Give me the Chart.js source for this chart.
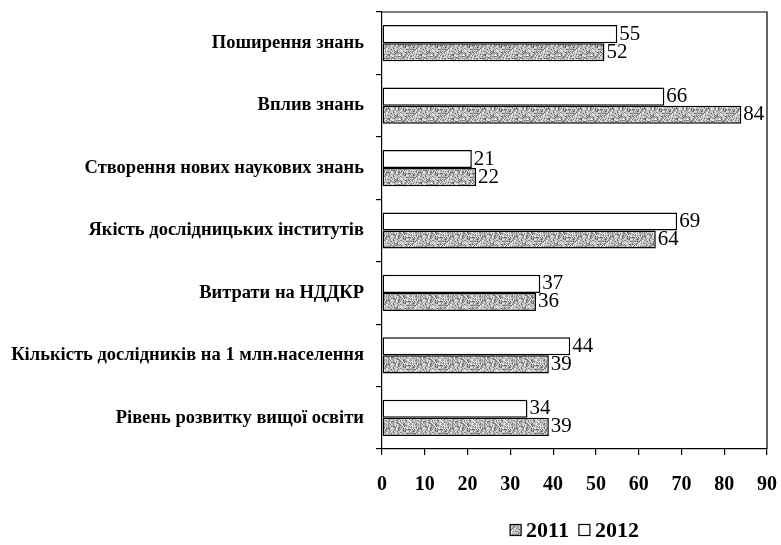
<!DOCTYPE html>
<html>
<head>
<meta charset="utf-8">
<script src="https://cdn.jsdelivr.net/npm/chart.js@4"></script>
<style>
  html, body { margin: 0; padding: 0; background: #fff; }
</style>
</head>
<body>
<canvas id="chart" width="781" height="545"></canvas>
<script>
// ---- data ----------------------------------------------------------------
const categories = [
  "Поширення знань",
  "Вплив знань",
  "Створення нових наукових знань",
  "Якість дослідницьких інститутів",
  "Витрати на НДДКР",
  "Кількість дослідників на 1 млн.населення",
  "Рівень розвитку вищої освіти",
];
const values2011 = [52, 84, 22, 64, 36, 39, 39];
const values2012 = [55, 66, 21, 69, 37, 44, 34];
const seriesNames = ["2011", "2012"];
const xMin = 0;
const xMax = 90;
const xStep = 10;

const SERIF = "'Liberation Serif', 'Times New Roman', serif";

// ---- grey stipple fill, like the scanned print -----------------------------
function makeStipple() {
  const n = 32;
  const c = document.createElement("canvas");
  c.width = n;
  c.height = n;
  const g = c.getContext("2d");
  const img = g.createImageData(n, n);
  for (let y = 0; y < n; y++) {
    for (let x = 0; x < n; x++) {
      // integer hash of the pixel position -> grey level (texture only)
      let h = Math.imul(x, 374761393) + Math.imul(y, 668265263);
      h = Math.imul(h ^ (h >>> 13), 1274126177);
      h = (h ^ (h >>> 16)) >>> 0;
      const r = h % 100;
      const v = r < 18 ? 110 : r < 45 ? 160 : r < 80 ? 200 : 235;
      const i = (y * n + x) * 4;
      img.data[i] = img.data[i + 1] = img.data[i + 2] = v;
      img.data[i + 3] = 255;
    }
  }
  g.putImageData(img, 0, 0);
  return document.getElementById("chart").getContext("2d").createPattern(c, "repeat");
}
const stipple = makeStipple();

// ---- plugins -------------------------------------------------------------
const framePlugin = {
  id: "frame",
  afterDraw(chart) {
    const { ctx, chartArea: a } = chart;
    ctx.save();
    ctx.strokeStyle = "#000";
    ctx.lineWidth = 1.2;
    ctx.beginPath();
    ctx.moveTo(a.left, a.top);
    ctx.lineTo(a.right, a.top);
    ctx.lineTo(a.right, a.bottom);
    ctx.stroke();
    ctx.restore();
  },
};

const valueLabels = {
  id: "valueLabels",
  afterDatasetsDraw(chart) {
    const { ctx } = chart;
    ctx.save();
    ctx.fillStyle = "#000";
    ctx.font = "21px " + SERIF;
    ctx.textAlign = "left";
    ctx.textBaseline = "middle";
    chart.data.datasets.forEach((ds, di) => {
      chart.getDatasetMeta(di).data.forEach((bar, i) => {
        ctx.fillText(String(ds.data[i]), bar.x + 2, bar.y);
      });
    });
    ctx.restore();
  },
};

const bottomLegend = {
  id: "bottomLegend",
  afterDraw(chart) {
    const { ctx, chartArea: a } = chart;
    const items = [
      { label: seriesNames[0], fill: stipple },
      { label: seriesNames[1], fill: "#fff" },
    ];
    const box = 11, gap = 5, between = 10;
    ctx.save();
    ctx.font = "bold 22px " + SERIF;
    let total = 0;
    items.forEach((it, i) => {
      it.w = ctx.measureText(it.label).width;
      total += box + gap + it.w + (i ? between : 0);
    });
    let x = (a.left + a.right) / 2 - total / 2;
    const y = 530;
    items.forEach((it, i) => {
      if (i) x += between;
      ctx.fillStyle = it.fill;
      ctx.fillRect(x, y - box / 2, box, box);
      ctx.strokeStyle = "#000";
      ctx.lineWidth = 1.2;
      ctx.strokeRect(x, y - box / 2, box, box);
      x += box + gap;
      ctx.fillStyle = "#000";
      ctx.textBaseline = "middle";
      ctx.fillText(it.label, x, y + 1);
      x += it.w;
    });
    ctx.restore();
  },
};

// ---- chart -----------------------------------------------------------------
new Chart(document.getElementById("chart"), {
  type: "bar",
  data: {
    labels: categories,
    datasets: [
      {
        label: seriesNames[1],
        data: values2012,
        backgroundColor: "#fff",
        borderColor: "#000",
        borderWidth: 1.5,
        borderSkipped: false,
      },
      {
        label: seriesNames[0],
        data: values2011,
        backgroundColor: stipple,
        borderColor: "#000",
        borderWidth: 1.5,
        borderSkipped: false,
      },
    ],
  },
  options: {
    indexAxis: "y",
    responsive: false,
    devicePixelRatio: 1,
    animation: false,
    categoryPercentage: 0.58,
    barPercentage: 1,
    layout: { padding: { top: 12, right: 14, bottom: 46, left: 0 } },
    plugins: {
      legend: { display: false },
      tooltip: { enabled: false },
    },
    scales: {
      x: {
        min: xMin,
        max: xMax,
        ticks: {
          stepSize: xStep,
          color: "#000",
          padding: 18,
          font: { family: SERIF, size: 20, weight: "bold" },
        },
        grid: { drawOnChartArea: false, tickLength: 6, color: "#000", lineWidth: 1.2 },
        border: { color: "#000", width: 1.2 },
        afterFit(s) {
          s.height = 50;
          s.paddingLeft = 0;
          s.paddingRight = 0;
        },
      },
      y: {
        ticks: {
          color: "#000",
          padding: 12,
          font: { family: SERIF, size: 18.5, weight: "bold" },
        },
        grid: { drawOnChartArea: false, tickLength: 6, color: "#000", lineWidth: 1.2 },
        border: { color: "#000", width: 1.2 },
        afterFit(s) {
          s.width = 382;
          s.paddingTop = 0;
          s.paddingBottom = 0;
        },
      },
    },
  },
  plugins: [framePlugin, valueLabels, bottomLegend],
});
</script>
</body>
</html>
